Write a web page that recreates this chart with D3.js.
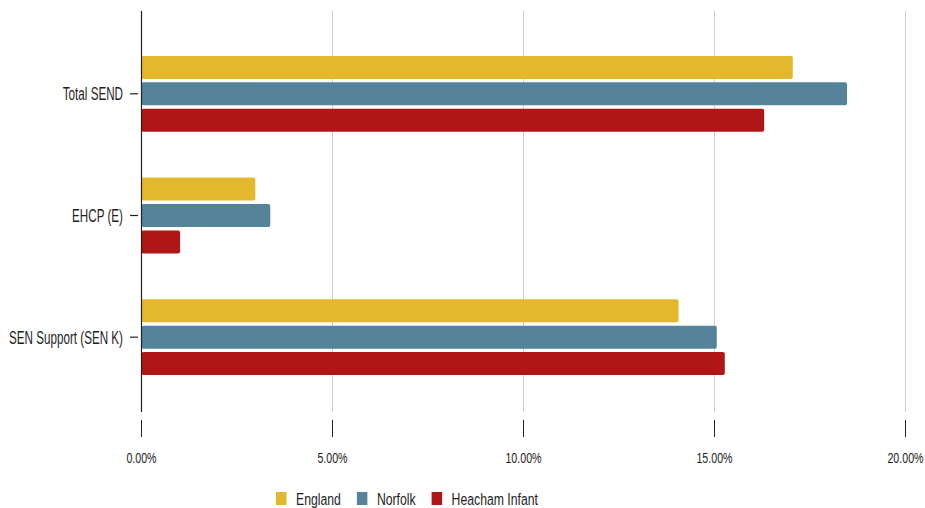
<!DOCTYPE html>
<html>
<head>
<meta charset="utf-8">
<script src="https://cdn.jsdelivr.net/npm/d3@7"></script>
<style>
  html, body { margin: 0; padding: 0; background: #fff; }
  svg { display: block; }
  text { font-family: "Liberation Sans", Arial, sans-serif; fill: #1e1e1e; }
</style>
</head>
<body>
<svg id="chart" width="925" height="508"></svg>
<script>
const categories = ["Total SEND", "EHCP (E)", "SEN Support (SEN K)"];
const seriesNames = ["England", "Norfolk", "Heacham Infant"];
const england = [17.05, 2.98, 14.06];
const norfolk = [18.47, 3.37, 15.06];
const heacham = [16.30, 1.01, 15.27];
const xTicks = [0, 5, 10, 15, 20];
const colors = ["#e4b82c", "#54839a", "#b01615"];

const seriesValues = [england, norfolk, heacham];
const rows = categories.map((c, i) => ({
  cat: c,
  vals: seriesNames.map((s, j) => ({ key: s, value: seriesValues[j][i], color: colors[j] }))
}));

const svg = d3.select("#chart");
const plotLeft = 141.5, plotRight = 905.5, plotTop = 11, plotBottom = 420;

const x = d3.scaleLinear().domain([0, 20]).range([plotLeft, plotRight]);
const y = d3.scaleBand().domain(categories).range([plotTop, plotBottom]).paddingInner(0.377).paddingOuter(0.369);
const y1 = d3.scaleBand().domain(seriesNames).range([0, y.bandwidth()]).paddingInner(0.13);

// gridlines
svg.append("g").selectAll("line").data(xTicks.filter(t => t > 0)).join("line")
  .attr("x1", d => x(d)).attr("x2", d => x(d))
  .attr("y1", plotTop).attr("y2", 412)
  .attr("stroke", "#cfcfcf").attr("stroke-width", 1);

// x tick marks
svg.append("g").selectAll("line").data(xTicks).join("line")
  .attr("x1", d => x(d)).attr("x2", d => x(d))
  .attr("y1", 420).attr("y2", 437)
  .attr("stroke", "#222").attr("stroke-width", 1);

// x tick labels
svg.append("g").selectAll("text").data(xTicks).join("text")
  .attr("transform", d => `translate(${x(d)},462.5) scale(0.71,1)`)
  .attr("text-anchor", "middle")
  .style("font-size", "15px")
  .text(d => d.toFixed(2) + "%");

// bars
const groups = svg.append("g").selectAll("g").data(rows).join("g")
  .attr("transform", d => `translate(0,${y(d.cat)})`);
groups.selectAll("rect").data(d => d.vals).join("rect")
  .attr("x", x(0))
  .attr("y", d => y1(d.key))
  .attr("width", d => x(d.value) - x(0))
  .attr("height", y1.bandwidth())
  .attr("rx", 2).attr("ry", 2)
  .attr("fill", d => d.color);

// y axis line
svg.append("line")
  .attr("x1", plotLeft).attr("x2", plotLeft)
  .attr("y1", plotTop).attr("y2", 412)
  .attr("stroke", "#222").attr("stroke-width", 1.2);

// y tick marks and labels
svg.append("g").selectAll("line").data(categories).join("line")
  .attr("x1", 130).attr("x2", 138)
  .attr("y1", d => y(d) + y.bandwidth() / 2).attr("y2", d => y(d) + y.bandwidth() / 2)
  .attr("stroke", "#222").attr("stroke-width", 1.2);
svg.append("g").selectAll("text").data(categories).join("text")
  .attr("transform", d => `translate(123,${y(d) + y.bandwidth() / 2 + 6.5}) scale(0.63,1)`)
  .attr("text-anchor", "end")
  .style("font-size", "18.5px")
  .text(d => d);

// legend
const legend = svg.append("g");
let lx = 276;
seriesNames.forEach((s, i) => {
  legend.append("rect").attr("x", lx).attr("y", 492).attr("width", 10.5).attr("height", 13)
    .attr("fill", colors[i]);
  const t = legend.append("text")
    .attr("transform", `translate(${lx + 20},504.5) scale(0.72,1)`)
    .style("font-size", "17px")
    .text(s);
  const w = t.node().getComputedTextLength() * 0.72;
  lx = lx + 20 + w + 16;
});
</script>
</body>
</html>
